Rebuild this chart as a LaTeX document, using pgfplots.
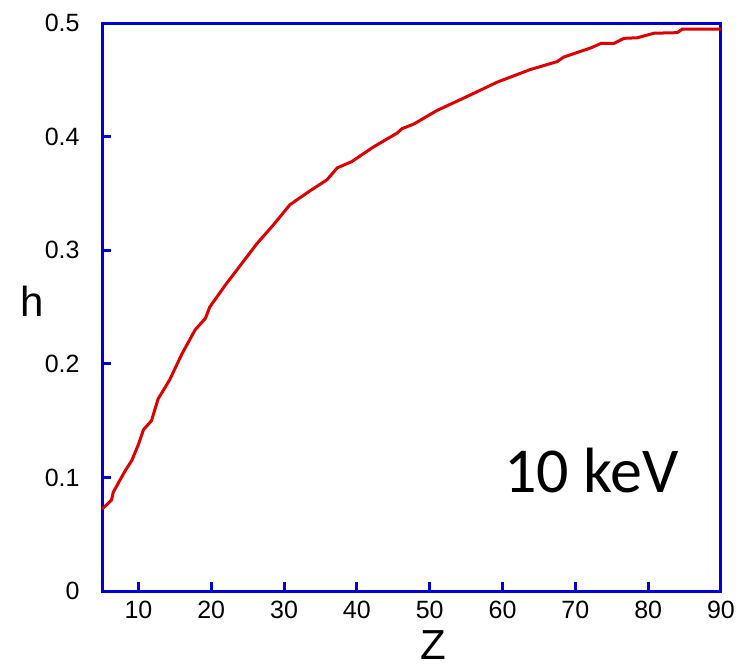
\documentclass[border=0pt]{standalone}
\usepackage{fontspec}
\setmainfont{Liberation Sans}
\newfontfamily\calibri{Carlito}
\usepackage{pgfplots}
\pgfplotsset{compat=1.18}
\definecolor{axblue}{RGB}{0,0,215}
\definecolor{curvered}{RGB}{222,0,0}

\begin{document}
\begin{tikzpicture}
  \path (-51pt,-39pt) rectangle (320pt,295.5pt);
  \begin{axis}[
    scale only axis, width=309.5pt, height=284pt,
    xmin=5, xmax=90, ymin=0, ymax=0.5,
    xtick={10,20,30,40,50,60,70,80,90},
    ytick={0,0.1,0.2,0.3,0.4,0.5},
    xtick pos=left, ytick pos=left,
    tick align=inside, major tick length=4.5pt,
    axis line style={axblue, line width=1.5pt},
    every tick/.style={axblue, line width=1.5pt},
    /pgf/number format/assume math mode=true,
    ticklabel style={font=\fontsize{12.5}{14}\selectfont},
    yticklabel style={inner sep=0pt, xshift=-11pt},
    xticklabel style={inner sep=0pt, yshift=-5pt},
    xlabel={Z}, ylabel={h},
    xlabel style={font=\fontsize{21}{24}\selectfont, at={(axis description cs:0.535,0)}, anchor=north, inner sep=0pt, yshift=-19.5pt},
    ylabel style={font=\fontsize{21}{24}\selectfont, rotate=-90, at={(axis description cs:0,0.51)}, anchor=east, inner sep=0pt, xshift=-29pt},
    clip=false,
  ]
    \addplot[curvered, line width=1.5pt] coordinates {
      (5.0,0.072) (6.3,0.080) (6.55,0.087) (7.5,0.098) (8.2,0.106)
      (9.1,0.115) (10.0,0.129) (10.7,0.142) (11.8,0.150) (12.7,0.169)
      (14.3,0.186) (16.0,0.209) (17.8,0.230) (19.2,0.240) (19.8,0.250)
      (21.9,0.269) (24.4,0.290) (26.3,0.306) (28.5,0.322) (30.8,0.340)
      (33.5,0.352) (35.9,0.362) (37.3,0.3725) (39.3,0.378) (42.3,0.391)
      (45.5,0.403) (46.2,0.407) (47.8,0.411) (51.0,0.423) (54.7,0.434)
      (59.3,0.448) (63.8,0.459) (67.5,0.466) (68.4,0.470) (70.7,0.475)
      (72.1,0.478) (73.5,0.482) (75.3,0.482) (76.7,0.4865) (78.5,0.487)
      (80.8,0.491) (84.0,0.4915) (84.7,0.4947) (90.0,0.4947)
    };
    \node[font=\calibri\fontsize{32}{36}\selectfont, anchor=base] at (axis cs:72.2,0.087) {10 keV};
  \end{axis}
\end{tikzpicture}
\end{document}
